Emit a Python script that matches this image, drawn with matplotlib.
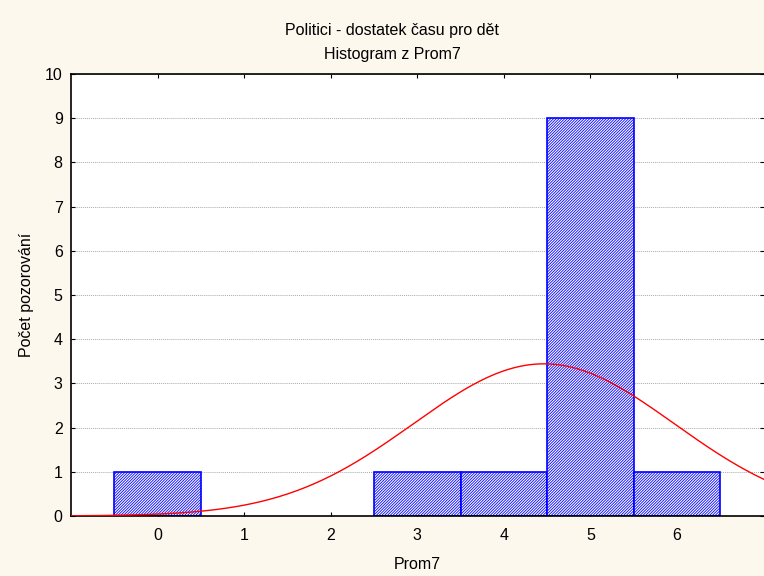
import numpy as np
import matplotlib
matplotlib.use("Agg")
import matplotlib.pyplot as plt

plt.rcParams['font.family'] = ['Liberation Sans', 'DejaVu Sans']
plt.rcParams['hatch.linewidth'] = 0.6

categories = [0, 1, 2, 3, 4, 5, 6]
counts = [1, 0, 0, 1, 1, 9, 1]
title1 = "Politici - dostatek času pro dět"
title2 = "Histogram z Prom7"
xlabel = "Prom7"
ylabel = "Počet pozorování"

bg = '#FDF8EE'
fig = plt.figure(figsize=(7.64, 5.76), dpi=100, facecolor=bg)
ax = fig.add_axes([71/764, 60/576, 1 - 71/764 - 0.0005, (516-74)/576])
ax.set_facecolor('white')

cats = np.array(categories, dtype=float)
cnt = np.array(counts, dtype=float)
nz = cnt > 0
ax.bar(cats[nz], cnt[nz], width=1.0, facecolor='white', edgecolor='#0000FF',
       hatch='/' * 12, linewidth=1.2, zorder=2)

# fitted normal curve
n = cnt.sum()
mean = (cats * cnt).sum() / n
sd = np.sqrt(((cats - mean) ** 2 * cnt).sum() / (n - 1))
xs = np.linspace(-1, 7, 400)
ys = n * 1.0 / (sd * np.sqrt(2 * np.pi)) * np.exp(-(xs - mean) ** 2 / (2 * sd ** 2))
ax.plot(xs, ys, color='#FF0000', linewidth=1.0, zorder=3)

ax.set_xlim(-1, 7)
ax.set_ylim(0, 10)
ax.set_xticks(categories)
ax.set_yticks(range(0, 11))
ax.yaxis.grid(True, linestyle=(0, (1, 1)), color='#AAAAAA', linewidth=0.7, zorder=0)
ax.set_axisbelow(True)
ax.tick_params(direction='in', top=True, right=True, length=3, labelsize=11.5, pad=6)
ax.tick_params(axis='x', pad=9)
for s in ['left', 'bottom', 'top']:
    ax.spines[s].set_linewidth(1.2)
ax.spines['right'].set_visible(False)

ax.set_xlabel(xlabel, fontsize=11.5, labelpad=10)
ax.set_ylabel(ylabel, fontsize=11.5, labelpad=8)
fig.text(392/764, 1 - 30/576, title1, ha='center', va='center', fontsize=11.5)
fig.text(392/764, 1 - 54/576, title2, ha='center', va='center', fontsize=11.5)

fig.savefig('out.png', dpi=100, facecolor=bg)
